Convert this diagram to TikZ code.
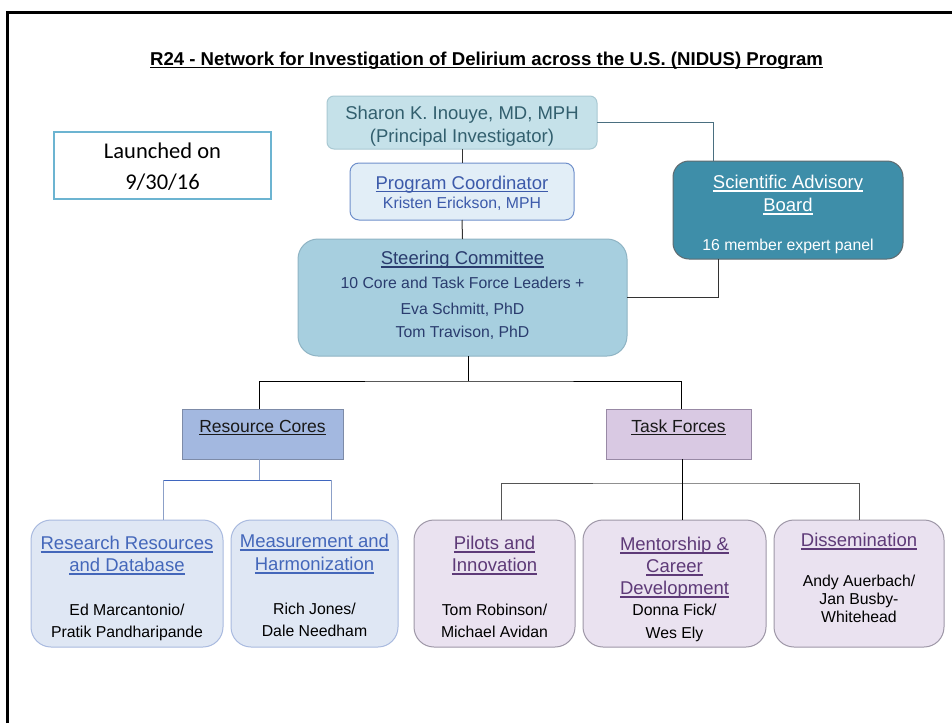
\documentclass[tikz,border=0pt]{standalone}
\usepackage{fontspec}
\setmainfont{Liberation Sans}
\newfontfamily\calfont{Carlito}
\usetikzlibrary{calc}
\newsavebox\ulbox
\newcommand\ulx[1]{\sbox\ulbox{#1}\rlap{\rule[-0.16em]{\wd\ulbox}{0.075em}}\usebox\ulbox}
\newcommand\hdsize{\fontsize{18.5}{22}\selectfont}
\newcommand\bdsize{\fontsize{15.8}{19}\selectfont}
\definecolor{pifill}{HTML}{C5E1E9}
\definecolor{pidraw}{HTML}{A9C9D3}
\definecolor{pitxt}{HTML}{325F6E}
\definecolor{pcfill}{HTML}{E2EEF7}
\definecolor{pcdraw}{HTML}{6F8FCB}
\definecolor{pctxt}{HTML}{3C5AAA}
\definecolor{scfill}{HTML}{A7CFDF}
\definecolor{scdraw}{HTML}{8FB4C4}
\definecolor{sctxt}{HTML}{2A3C6E}
\definecolor{sabfill}{HTML}{3E8EA9}
\definecolor{sabdraw}{HTML}{5F6B70}
\definecolor{lndraw}{HTML}{6CB4D1}
\definecolor{rcfill}{HTML}{A3B8E0}
\definecolor{rcdraw}{HTML}{7D8BA8}
\definecolor{tffill}{HTML}{D9C9E3}
\definecolor{tfdraw}{HTML}{9889A5}
\definecolor{blfill}{HTML}{DFE7F4}
\definecolor{bldraw}{HTML}{A9BADF}
\definecolor{bltxt}{HTML}{4467BA}
\definecolor{pufill}{HTML}{EAE2F0}
\definecolor{pudraw}{HTML}{9E97A7}
\definecolor{putxt}{HTML}{5E3A78}
\definecolor{tealline}{HTML}{4A6F80}
\definecolor{blueline}{HTML}{3F66BF}
\definecolor{lblueline}{HTML}{8CA0C8}
\definecolor{grayline}{HTML}{555555}
\begin{document}
\begin{tikzpicture}[x=1pt,y=-1pt,
  box/.style={inner sep=0pt,outer sep=0pt,line width=1pt},
  txt/.style={inner sep=0pt,outer sep=0pt,anchor=base,align=center},
  pibox/.style={box,rounded corners=7pt,fill=pifill,draw=pidraw},
  pcbox/.style={box,rounded corners=9pt,fill=pcfill,draw=pcdraw},
  scbox/.style={box,rounded corners=20pt,fill=scfill,draw=scdraw},
  sabbox/.style={box,rounded corners=16pt,fill=sabfill,draw=sabdraw},
  lnbox/.style={box,fill=white,draw=lndraw,line width=2.5pt},
  rcbox/.style={box,fill=rcfill,draw=rcdraw},
  tfbox/.style={box,fill=tffill,draw=tfdraw},
  blbox/.style={box,rounded corners=20pt,fill=blfill,draw=bldraw},
  pubox/.style={box,rounded corners=20pt,fill=pufill,draw=pudraw},
  conn/.style={line width=1pt}
]
\useasboundingbox (0,0) rectangle (952,723);
\fill[white] (0,0) rectangle (952,723);
\draw[line width=3pt] (7.5,723) -- (7.5,12.5) -- (952,12.5);

% title
\node[txt] (title) at (486.5,65) {\fontsize{18.6}{22}\selectfont\bfseries\ulx{R24 - Network for Investigation of Delirium across the U.S. (NIDUS) Program}};

% boxes
\node[pibox,minimum width=270pt,minimum height=53pt] (pi) at (462,122.5) {};
\node[pcbox,minimum width=224pt,minimum height=57pt] (pc) at (462,191.5) {};
\node[scbox,minimum width=329pt,minimum height=117pt] (sc) at (462.5,297.5) {};
\node[sabbox,minimum width=230pt,minimum height=98pt] (sab) at (788,210) {};
\node[lnbox,minimum width=217pt,minimum height=67pt] (ln) at (162.5,165.5) {};
\node[rcbox,minimum width=161pt,minimum height=50pt] (rc) at (262.5,434) {};
\node[tfbox,minimum width=145pt,minimum height=50pt] (tf) at (678.5,434) {};
\node[blbox,minimum width=192pt,minimum height=127pt] (rr) at (127,583.5) {};
\node[blbox,minimum width=167pt,minimum height=127pt] (mh) at (314.5,583.5) {};
\node[pubox,minimum width=161pt,minimum height=127pt] (pl) at (494.5,583.5) {};
\node[pubox,minimum width=183pt,minimum height=127pt] (me) at (674.5,583.5) {};
\node[pubox,minimum width=170pt,minimum height=127pt] (di) at (859,583.5) {};

% connector coordinates
\coordinate (sabtop) at (713,161);
\coordinate (sabbot) at (718,259);
\coordinate (scb) at (468,356);
\coordinate (j1) at (468,381);
\coordinate (rctop) at (259.5,409);
\coordinate (tftop) at (681,409);
\coordinate (rcb) at (259.5,459);
\coordinate (j2) at (259.5,480);
\coordinate (rrtop) at (163,520);
\coordinate (mhtop) at (331,520);
\coordinate (tfb) at (682.5,459);
\coordinate (j3) at (682.5,483);
\coordinate (pltop) at (501,520);
\coordinate (metop) at (682.5,520);
\coordinate (ditop) at (859,520);

\draw[conn,tealline] (pi.east) -| (sabtop);
\draw[conn,black!80] (pi.south) -- (pc.north);
\draw[conn,black!80] (pc.south) -- (sc.north);
\draw[conn,black!80] (sc.east) -| (sabbot);
\draw[conn,black] (scb) -- (j1);
\draw[conn,black] (rctop) |- (j1) -| (tftop);
\draw[conn,lblueline] (rcb) -- (j2);
\draw[conn,blueline] (rrtop |- j2) -- (mhtop |- j2);
\draw[conn,lblueline] (rrtop |- j2) -- (rrtop);
\draw[conn,lblueline] (mhtop |- j2) -- (mhtop);
\draw[conn,grayline] (pltop) |- (j3) -| (ditop);
\draw[conn,black] (tfb) -- (metop);

% texts
\node[txt,text=pitxt] (pi1) at (462,119.5) {\hdsize Sharon K. Inouye, MD, MPH};
\node[txt,text=pitxt] (pi2) at (462,142.5) {\hdsize (Principal Investigator)};
\node[txt,text=pctxt] (pc1) at (462,189.5) {\hdsize\ulx{Program Coordinator}};
\node[txt,text=pctxt] (pc2) at (462,208.7) {\bdsize Kristen Erickson, MPH};
\node[txt,text=sctxt] (sc1) at (462.5,264.7) {\hdsize\ulx{Steering Committee}};
\node[txt,text=sctxt] (sc2) at (462.5,288.7) {\bdsize 10 Core and Task Force Leaders +};
\node[txt,text=sctxt] (sc3) at (462.5,314.7) {\bdsize Eva Schmitt, PhD};
\node[txt,text=sctxt] (sc4) at (462.5,337.7) {\bdsize Tom Travison, PhD};
\node[txt,text=white] (sab1) at (788,188.7) {\hdsize\ulx{Scientific Advisory}};
\node[txt,text=white] (sab2) at (788,211.7) {\hdsize\ulx{Board}};
\node[txt,text=white] (sab3) at (788,250.7) {\bdsize 16 member expert panel};
\node[txt,text=black] (ln1) at (162.5,158) {\calfont\fontsize{22.5}{26}\selectfont Launched on};
\node[txt,text=black] (ln2) at (162.5,189) {\calfont\fontsize{22.5}{26}\selectfont 9/30/16};
\node[txt,text=black!90] (rc1) at (262.5,432.3) {\fontsize{17.5}{21}\selectfont\ulx{Resource Cores}};
\node[txt,text=black!90] (tf1) at (678.5,432.3) {\fontsize{17.5}{21}\selectfont\ulx{Task Forces}};

\node[txt,text=bltxt] (rr1) at (127,549.7) {\hdsize\ulx{Research Resources}};
\node[txt,text=bltxt] (rr2) at (127,571.7) {\hdsize\ulx{and Database}};
\node[txt,text=black] (rr3) at (127,615.7) {\bdsize Ed Marcantonio/};
\node[txt,text=black] (rr4) at (127,637.7) {\bdsize Pratik Pandharipande};

\node[txt,text=bltxt] (mh1) at (314.5,547.7) {\hdsize\ulx{Measurement and}};
\node[txt,text=bltxt] (mh2) at (314.5,570.7) {\hdsize\ulx{Harmonization}};
\node[txt,text=black] (mh3) at (314.5,614.7) {\bdsize Rich Jones/};
\node[txt,text=black] (mh4) at (314.5,636.7) {\bdsize Dale Needham};

\node[txt,text=putxt] (pl1) at (494.5,549.7) {\hdsize\ulx{Pilots and}};
\node[txt,text=putxt] (pl2) at (494.5,571.7) {\hdsize\ulx{Innovation}};
\node[txt,text=black] (pl3) at (494.5,615.7) {\bdsize Tom Robinson/};
\node[txt,text=black] (pl4) at (494.5,637.7) {\bdsize Michael Avidan};

\node[txt,text=putxt] (me1) at (674.5,550.7) {\hdsize\ulx{Mentorship \&}};
\node[txt,text=putxt] (me2) at (674.5,572.7) {\hdsize\ulx{Career}};
\node[txt,text=putxt] (me3) at (674.5,594.7) {\hdsize\ulx{Development}};
\node[txt,text=black] (me4) at (674.5,615.7) {\bdsize Donna Fick/};
\node[txt,text=black] (me5) at (674.5,638.7) {\bdsize Wes Ely};

\node[txt,text=putxt] (di1) at (859,546.7) {\hdsize\ulx{Dissemination}};
\node[txt,text=black] (di2) at (859,586.7) {\bdsize Andy Auerbach/};
\node[txt,text=black] (di3) at (859,604.7) {\bdsize Jan Busby-};
\node[txt,text=black] (di4) at (859,622.7) {\bdsize Whitehead};
\end{tikzpicture}
\end{document}
